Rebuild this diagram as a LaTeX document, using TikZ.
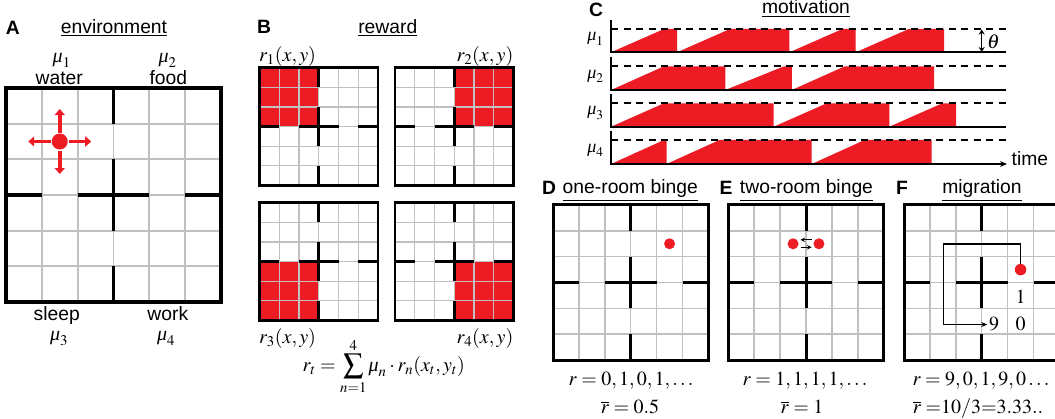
\documentclass[tikz,border=0pt]{standalone}
\usepackage{mathptmx}
\usepackage[no-math]{fontspec}
\setmainfont{Liberation Sans}
\newfontfamily\tmsfont{Liberation Serif}
\usetikzlibrary{arrows.meta,calc}
\definecolor{myred}{RGB}{237,28,36}
\definecolor{gridgray}{RGB}{192,192,192}
\newcommand{\myul}[1]{\vtop{\hbox{#1}\kern1.6pt\hrule height 1.1pt}}
\newcommand{\imu}{\hbox{\tmsfont\itshape μ}}
\newcommand{\roomgrid}{%
  \foreach \i in {1,...,5}{\draw[gridline] (\i,0) -- (\i,6) (0,\i) -- (6,\i);}
  \draw[wall] (3,0)--(3,1) (3,2)--(3,4) (3,5)--(3,6) (0,3)--(1,3) (2,3)--(4,3) (5,3)--(6,3);
  \draw[border] (0,0) rectangle (6,6);}
\begin{document}
\begin{tikzpicture}[x=1pt,y=-1pt,
  lab/.style={font=\fontsize{19.3}{23}\selectfont, inner sep=0pt},
  ttl/.style={font=\fontsize{19.3}{23}\selectfont\bfseries, inner sep=0pt},
  mth/.style={font=\fontsize{20}{24}\selectfont, inner sep=0pt},
  cmth/.style={font=\fontsize{18}{22}\selectfont, inner sep=0pt},
  gridline/.style={draw=gridgray, line width=1.5pt},
  wall/.style={draw=black, line width=3pt},
  border/.style={draw=black, line width=3pt, line join=miter},
  dot/.style={circle, fill=myred, inner sep=0pt, minimum size=11pt},
  redarrow/.style={draw=myred, line width=3.8pt, -{Triangle[width=10pt,length=6pt]}},
  smallarrow/.style={draw=black, line width=1pt, -{Stealth[length=4.5pt,width=4.5pt]}},
  fpath/.style={draw=black, line width=1.2pt, line join=miter, -{Stealth[length=6pt,width=5pt]}},
  axisline/.style={draw=black, line width=2pt},
  dashline/.style={draw=black, line width=1.6pt, dash pattern=on 7pt off 5.5pt},
  sawfill/.style={fill=myred, draw=none}]
\useasboundingbox (0,0) rectangle (1055,419);

% ---------------- Panel A ----------------
\node[ttl, anchor=base] (Alab) at (12.8,35) {A};
\node[lab, anchor=base] (Atitle) at (114,33.5) {\myul{environment}};
\node[mth] (mu1) at (61.7,60) {$\imu_1$};
\node[lab, anchor=base] (water) at (59.2,85) {water};
\node[mth] (mu2) at (167.5,60) {$\imu_2$};
\node[lab, anchor=base] (food) at (168.3,85) {food};
\node[lab, anchor=base] (sleep) at (56.7,320.7) {sleep};
\node[lab, anchor=base] (work) at (167.8,320.7) {work};
\node[mth] (mu3) at (59,338.5) {$\imu_3$};
\node[mth] (mu4) at (166,338.5) {$\imu_4$};
\begin{scope}[shift={(6,88)}, x=35.83pt, y=-35.67pt, gridline/.append style={line width=1.7pt}, wall/.append style={line width=3.2pt}, border/.append style={line width=3.2pt}]
  \roomgrid
  \node[dot, minimum size=16pt] (adot) at (1.5,1.5) {};
\end{scope}
\draw[redarrow] ($(adot)+(0,-9)$) -- ($(adot)+(0,-32.5)$);
\draw[redarrow] ($(adot)+(0,9)$) -- ($(adot)+(0,32.5)$);
\draw[redarrow] ($(adot)+(-9,0)$) -- ($(adot)+(-31.5,0)$);
\draw[redarrow] ($(adot)+(9,0)$) -- ($(adot)+(31.5,0)$);

% ---------------- Panel B ----------------
\node[ttl, anchor=base] (Blab) at (264,33.5) {B};
\node[lab, anchor=base] (Btitle) at (387.8,33.5) {\myul{reward}};
\node[mth, anchor=base west] (r1) at (259,61.7) {$r_1(x,y)$};
\node[mth, anchor=base east] (r2) at (513.5,61.7) {$r_2(x,y)$};
\node[mth, anchor=base west] (r3) at (259,343.3) {$r_3(x,y)$};
\node[mth, anchor=base east] (r4) at (513.5,343.3) {$r_4(x,y)$};
\node[mth, anchor=base] (rsum) at (383.8,371.7) {$\displaystyle r_t=\sum_{n=1}^{4}\imu_n\cdot r_n(x_t,y_t)$};
\begin{scope}[gridline/.append style={line width=1.3pt}, wall/.append style={line width=2.8pt}, border/.append style={line width=2.8pt}]
\begin{scope}[shift={(259.5,67.7)}, x=19.75pt, y=-19.63pt]
  \fill[myred] (0,0) rectangle (3,3);
  \roomgrid
\end{scope}
\begin{scope}[shift={(395,67.7)}, x=19.75pt, y=-19.63pt]
  \fill[myred] (3,0) rectangle (6,3);
  \roomgrid
\end{scope}
\begin{scope}[shift={(259.5,202.7)}, x=19.75pt, y=-19.63pt]
  \fill[myred] (0,3) rectangle (3,6);
  \roomgrid
\end{scope}
\begin{scope}[shift={(395,202.7)}, x=19.75pt, y=-19.63pt]
  \fill[myred] (3,3) rectangle (6,6);
  \roomgrid
\end{scope}
\end{scope}

% ---------------- Panel C ----------------
\node[ttl, anchor=base] (Clab) at (596,16.5) {C};
\node[lab, anchor=base] (Ctitle) at (806,14) {\myul{motivation}};
% row 1: base 52.3, thr 29
\fill[sawfill] (611,52.3) -- (664,29) -- (677,29) -- (677,52.3) -- (730,29) -- (789.4,29) -- (789.4,52.3) -- (842.4,29) -- (855.7,29) -- (855.7,52.3) -- (908.7,29) -- (944,29) -- (944,52.3) -- cycle;
% row 2: base 90, thr 66.3
\fill[sawfill] (611,90) -- (664,66.3) -- (725.3,66.3) -- (725.3,90) -- (784,66.3) -- (791.8,66.3) -- (791.8,90) -- (844.8,66.3) -- (934.2,66.3) -- (934.2,90) -- cycle;
% row 3: base 126.7, thr 103.3
\fill[sawfill] (611,126.7) -- (664,103.3) -- (773.7,103.3) -- (773.7,126.7) -- (826.7,103.3) -- (889.3,103.3) -- (889.3,126.7) -- (942.3,103.3) -- (956,103.3) -- (956,126.7) -- cycle;
% row 4: base 164, thr 140
\fill[sawfill] (611,164) -- (664,140) -- (666.5,140) -- (666.5,164) -- (719.5,140) -- (811.7,140) -- (811.7,164) -- (864.7,140) -- (931.7,140) -- (931.7,164) -- cycle;
\foreach \b/\t in {52.3/29, 90/66.3, 126.7/103.3, 164/140}{
  \draw[dashline] (611,\t) -- (1006,\t);
}
\draw[axisline] (611,19.8) -- (611,52.3) -- (1006,52.3);
\draw[axisline] (611,57.5) -- (611,90) -- (1006,90);
\draw[axisline] (611,94.2) -- (611,126.7) -- (1006,126.7);
\draw[axisline, -{Stealth[length=7pt,width=6pt]}] (611,131.5) -- (611,164) -- (1007,164);
\node[lab, anchor=base west] (time) at (1011.5,166) {time};
\node[cmth] (cmu1) at (595.5,38.8) {$\imu_1$};
\node[cmth] (cmu2) at (595.5,76.5) {$\imu_2$};
\node[cmth] (cmu3) at (595.5,113.2) {$\imu_3$};
\node[cmth] (cmu4) at (595.5,150.5) {$\imu_4$};
\coordinate (thtop) at (981.7,29.5);
\coordinate (thbot) at (981.7,52);
\draw[line width=1.5pt, {Stealth[length=5pt,width=6pt]}-{Stealth[length=5pt,width=6pt]}] (thtop) -- (thbot);
\node[mth] (theta) at (993.5,42) {$\theta$};

% ---------------- Panel D ----------------
\node[ttl, anchor=base] (Dlab) at (549,195) {D};
\node[lab, anchor=base] (Dtitle) at (630.3,194) {\myul{one-room binge}};
\begin{scope}[shift={(553,205)}, x=25.9pt, y=-25.85pt]
  \roomgrid
  \node[dot] (ddot) at (4.5,1.5) {};
\end{scope}
\node[mth, anchor=base] (Dr) at (631,386) {$r=0,1,0,1,\ldots$};
\node[mth, anchor=base] (Drbar) at (630,413.5) {$\overline{r}=0.5$};

% ---------------- Panel E ----------------
\node[ttl, anchor=base] (Elab) at (726,195) {E};
\node[lab, anchor=base] (Etitle) at (806.5,194) {\myul{two-room binge}};
\begin{scope}[shift={(728.3,205)}, x=25.9pt, y=-25.85pt]
  \roomgrid
  \node[dot] (edot1) at (2.5,1.5) {};
  \node[dot] (edot2) at (3.5,1.5) {};
\end{scope}
\coordinate (emid) at ($(edot1)!0.5!(edot2)$);
\draw[smallarrow] ($(emid)+(5.5,-4)$) -- ($(emid)+(-5.5,-4)$);
\draw[smallarrow] ($(emid)+(-5.5,3.5)$) -- ($(emid)+(5.5,3.5)$);
\node[mth, anchor=base] (Er) at (805,386) {$r=1,1,1,1,\ldots$};
\node[mth, anchor=base] (Erbar) at (802,413.5) {$\overline{r}=1$};

% ---------------- Panel F ----------------
\node[ttl, anchor=base] (Flab) at (902,195) {F};
\node[lab, anchor=base] (Ftitle) at (982,194) {\myul{migration}};
\begin{scope}
  \clip (880,195) rectangle (1055,370);
  \begin{scope}[shift={(904,205)}, x=25.9pt, y=-25.85pt]
    \roomgrid
    \node[dot, minimum size=11.5pt] (fdot) at (4.5,2.5) {};
  \end{scope}
\end{scope}
\node[mth, anchor=base] (one) at (1020.5,303.3) {$1$};
\node[mth, anchor=base, inner sep=1.5pt] (nine) at (994,331) {$9$};
\node[mth, anchor=base] (zero) at (1020.5,331) {$0$};
\coordinate (fturn) at (943.3,244);
\draw[fpath] (fdot.north) |- (fturn) |- (nine.west);
\node[mth, anchor=base] (Fr) at (981,386) {$r=9,0,1,9,0\ldots$};
\node[mth, anchor=base] (Frbar) at (978,413.5) {$\overline{r}\;{=}10/3{=}3.33..$};
\end{tikzpicture}
\end{document}
